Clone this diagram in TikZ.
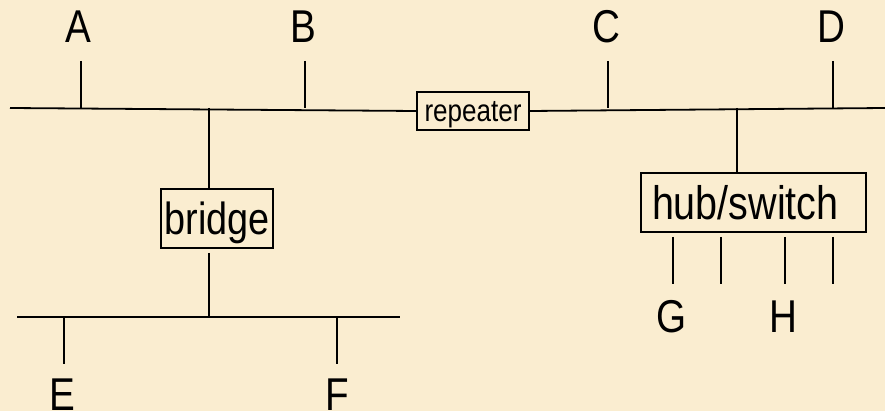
\documentclass[tikz,border=0pt]{standalone}
\usepackage{fontspec}
\setmainfont{Liberation Sans}[FakeStretch=0.84]
\usepackage{tikz}
\usetikzlibrary{positioning}
\usepackage{xcolor}
\definecolor{parchment}{HTML}{FAEDD0}
\definecolor{inkblack}{HTML}{000000}

\begin{document}
\begin{tikzpicture}[
      x=1pt, y=-1pt,
      every node/.style={inner sep=0pt, text=inkblack},
      stalabel/.style={anchor=base, font=\fontsize{46}{46}\selectfont},
      devbox/.style={draw, line width=1.8pt, text depth=0pt, fill=parchment},
      wire/.style={line width=1.8pt, draw=inkblack},
    ]
    \fill[parchment] (0,0) rectangle (885,411);
    \useasboundingbox (0,0) rectangle (885,411);

    % stations on the upper segment
    \node[stalabel] (A) at (78, 43) {A};
    \node[stalabel] (B) at (303, 43) {B};
    \node[stalabel] (C) at (606, 43) {C};
    \node[stalabel] (D) at (831, 43) {D};

    % stations on the lower segment and behind the switch
    \node[stalabel] (E) at (62, 410) {E};
    \node[stalabel] (F) at (337, 410) {F};
    \node[stalabel] (G) at (672, 332) {G};
    \node[stalabel] (H) at (783, 332) {H};

    % devices
    \node[devbox, minimum width=112pt, minimum height=38pt,
          font=\fontsize{31}{31}\selectfont] (rep) at (473, 111) {repeater};
    \node[devbox, minimum width=112pt, minimum height=59pt,
          font=\fontsize{45}{45}\selectfont] (bridge) at (217, 218.5) {bridge};
    \node[devbox, minimum width=225pt, minimum height=59pt, text width=203pt, align=left,
          font=\fontsize{47}{47}\selectfont] (hub) at (753.5, 202.5) {hub/switch};

    % upper bus
    \coordinate (busL) at (10, 108);
    \coordinate (busR) at (885, 108);
    \draw[wire] (busL) -- (rep.west);
    \draw[wire] (rep.east) -- (busR);

    % station drops on the upper bus
    \foreach \n/\x in {a/81, b/305, c/608, d/833} {
      \coordinate (\n top) at (\x, 61);
      \coordinate (\n tap) at (\x, 108);
      \draw[wire] (\n top) -- (\n tap);
    }

    % bridge between the two segments
    \coordinate (brtap) at (209, 108);
    \draw[wire] (brtap) -- (brtap |- bridge.north);
    \coordinate (brout) at (209, 253);
    \coordinate (lowtap) at (209, 317);
    \draw[wire] (brout) -- (lowtap);

    % lower bus
    \coordinate (lowL) at (17, 317);
    \coordinate (lowR) at (400, 317);
    \draw[wire] (lowL) -- (lowR);
    \foreach \n/\x in {e/64, f/337} {
      \coordinate (\n tap) at (\x, 317);
      \coordinate (\n end) at (\x, 364);
      \draw[wire] (\n tap) -- (\n end);
    }

    % switch with its ports
    \coordinate (hubtap) at (737, 108);
    \draw[wire] (hubtap) -- (hubtap |- hub.north);
    \foreach \p/\x in {1/673, 2/721, 3/785, 4/833} {
      \coordinate (port\p) at (\x, 237);
      \coordinate (end\p) at (\x, 284);
      \draw[wire] (port\p) -- (end\p);
    }
  \end{tikzpicture}
\end{document}
